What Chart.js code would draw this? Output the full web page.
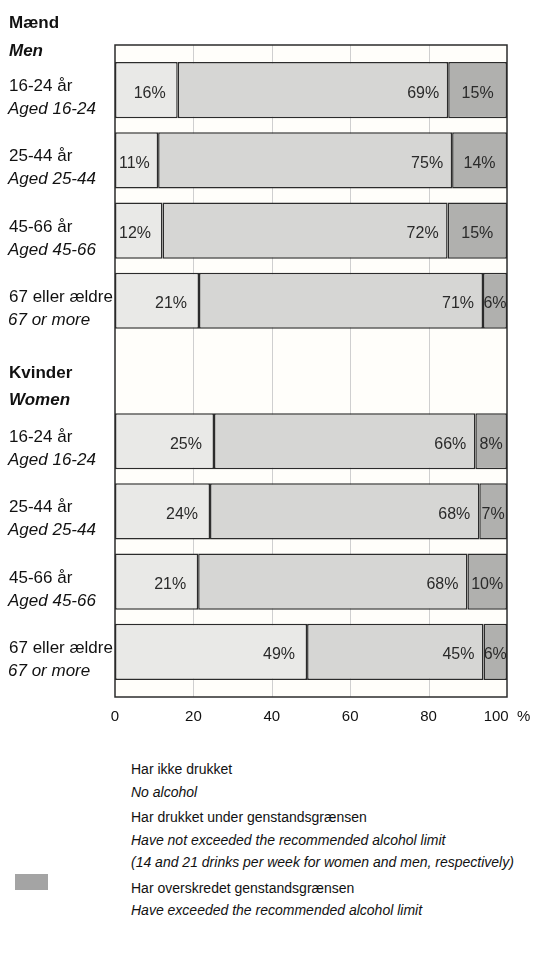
<!DOCTYPE html>
<html>
<head>
<meta charset="utf-8">
<script src="https://cdn.jsdelivr.net/npm/chart.js@4"></script>
<style>
  html, body { margin: 0; background: #fff; overflow: hidden; }
  body { font-family: "Liberation Sans", Arial, sans-serif; color: #111; width: 536px; height: 954px; position: relative; }
  #wrap { position: absolute; left: 0; top: 0; width: 536px; height: 730px; }
  #legend { position: absolute; left: 131px; top: 758px; font-size: 14px; line-height: 22.5px; white-space: nowrap; }
  #legend .blk { margin-bottom: 3px; }
  #legend i { font-style: italic; }
  #swatch { position: absolute; left: 15px; top: 874px; width: 33px; height: 16px; background: #a4a4a4; }
</style>
</head>
<body>
<div id="wrap"><canvas id="chart1"></canvas></div>
<div id="swatch"></div>
<div id="legend">
  <div class="blk">Har ikke drukket<br><i>No alcohol</i></div>
  <div class="blk">Har drukket under genstandsgrænsen<br><i>Have not exceeded the recommended alcohol limit</i><br><i>(14 and 21 drinks per week for women and men, respectively)</i></div>
  <div class="blk">Har overskredet genstandsgrænsen<br><i>Have exceeded the recommended alcohol limit</i></div>
</div>
<script>
// rows: 4 men, a header slot, 4 women
const rowsDa = ['16-24 år','25-44 år','45-66 år','67 eller ældre','','16-24 år','25-44 år','45-66 år','67 eller ældre'];
const rowsEn = ['Aged 16-24','Aged 25-44','Aged 45-66','67 or more','','Aged 16-24','Aged 25-44','Aged 45-66','67 or more'];
const noAlcohol = [16, 11, 12, 21, null, 25, 24, 21, 49];
const underLimit = [69, 75, 72, 71, null, 66, 68, 68, 45];
const overLimit = [15, 14, 15, 6, null, 8, 7, 10, 6];
const xTicks = [0, 20, 40, 60, 80, 100];

// printed shares don't always add to 100, so bars are drawn as share of row total
const totals = noAlcohol.map((v, i) => v == null ? null : v + underLimit[i] + overLimit[i]);
const share = arr => arr.map((v, i) => v == null ? null : v / totals[i] * 100);

const FONT = '"Liberation Sans", Arial, sans-serif';
const EXTRA = 10; // frame reaches a bit past the first and last rows

const framePlugin = {
  id: 'frame',
  beforeDatasetsDraw(chart) {
    const {ctx, chartArea: a, scales: {x}} = chart;
    ctx.save();
    ctx.fillStyle = '#fffefa';
    ctx.fillRect(a.left, a.top - EXTRA, a.right - a.left, a.bottom - a.top + 2 * EXTRA);
    ctx.strokeStyle = '#cfcfcf';
    ctx.lineWidth = 1;
    xTicks.slice(1, -1).forEach(t => {
      const px = Math.round(x.getPixelForValue(t)) + 0.5;
      ctx.beginPath();
      ctx.moveTo(px, a.top - EXTRA);
      ctx.lineTo(px, a.bottom + EXTRA);
      ctx.stroke();
    });
    ctx.restore();
  },
  afterDatasetsDraw(chart) {
    const {ctx, chartArea: a, scales: {y}} = chart;
    ctx.save();
    // value labels
    ctx.font = '16px ' + FONT;
    ctx.fillStyle = '#2a2a2a';
    ctx.textBaseline = 'middle';
    const raw = [noAlcohol, underLimit, overLimit];
    chart.data.datasets.forEach((ds, di) => {
      chart.getDatasetMeta(di).data.forEach((bar, i) => {
        const v = raw[di][i];
        if (v == null) return;
        const txt = v + '%';
        const yy = bar.y + 3;
        const w = ctx.measureText(txt).width;
        if (di === 2) {
          ctx.textAlign = 'center';
          ctx.fillText(txt, (bar.x + bar.base) / 2, yy);
          return;
        }
        ctx.textAlign = 'right';
        let right = bar.x - (di === 0 ? 12 : 9);
        if (right - w < bar.base + 4) right = bar.base + 4 + w;
        ctx.fillText(txt, right, yy);
      });
    });
    // frame
    ctx.strokeStyle = '#2b2b2b';
    ctx.lineWidth = 1.5;
    ctx.strokeRect(a.left, a.top - EXTRA, a.right - a.left, a.bottom - a.top + 2 * EXTRA);
    // row labels
    ctx.textAlign = 'left';
    ctx.textBaseline = 'alphabetic';
    ctx.fillStyle = '#111';
    rowsDa.forEach((lab, i) => {
      if (!lab) return;
      const c = y.getPixelForValue(i);
      ctx.font = '17px ' + FONT;
      ctx.fillText(lab, 9, c + 1);
      ctx.font = 'italic 17px ' + FONT;
      ctx.fillText(rowsEn[i], 8, c + 24);
    });
    // group headers
    const first = y.getPixelForValue(0), women = y.getPixelForValue(5);
    ctx.font = 'bold 17px ' + FONT;
    ctx.fillText('Mænd', 9, first - 62);
    ctx.fillText('Kvinder', 9, women - 63);
    ctx.font = 'bold italic 17px ' + FONT;
    ctx.fillText('Men', 9, first - 34);
    ctx.fillText('Women', 9, women - 36);
    ctx.restore();
  }
};

const barStyle = {borderColor: '#2b2b2b', borderWidth: 1.5, borderSkipped: false, barPercentage: 0.8, categoryPercentage: 1};

new Chart('chart1', {
  type: 'bar',
  data: {
    labels: rowsDa.map((d, i) => d ? d + ' / ' + rowsEn[i] : ''),
    datasets: [
      {label: 'Har ikke drukket', data: share(noAlcohol), backgroundColor: '#e9e9e7', ...barStyle},
      {label: 'Har drukket under genstandsgrænsen', data: share(underLimit), backgroundColor: '#d6d6d4', ...barStyle},
      {label: 'Har overskredet genstandsgrænsen', data: share(overLimit), backgroundColor: '#b0b0ae', ...barStyle}
    ]
  },
  options: {
    indexAxis: 'y',
    responsive: true,
    maintainAspectRatio: false,
    animation: false,
    layout: {padding: {left: 115, right: 29, top: 55, bottom: 0}},
    plugins: {legend: {display: false}, tooltip: {enabled: false}},
    scales: {
      x: {
        stacked: true, min: 0, max: 100,
        afterBuildTicks: s => { s.ticks = xTicks.map(v => ({value: v})); },
        afterFit: s => { s.paddingLeft = 0; s.paddingRight = 0; s.height = 43; },
        grid: {display: false, drawTicks: false},
        border: {display: false},
        ticks: {
          padding: 21, color: '#111', maxRotation: 0,
          font: {family: FONT, size: 15},
          callback: v => v === 100 ? '100  %' : String(v)
        }
      },
      y: {stacked: true, display: false}
    }
  },
  plugins: [framePlugin]
});
</script>
</body>
</html>
